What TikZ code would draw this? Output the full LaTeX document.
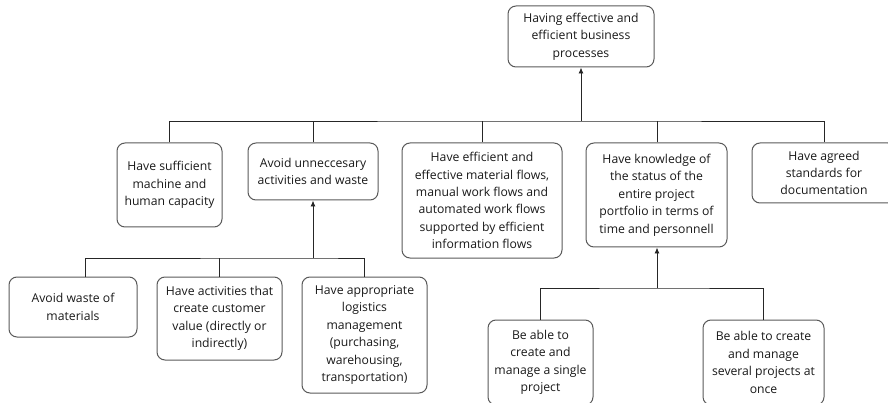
\documentclass[tikz,border=0pt]{standalone}
\usepackage{fontspec}
\setmainfont{Open Sans}
\usetikzlibrary{arrows.meta}
\begin{document}
\begin{tikzpicture}[x=1pt,y=-1pt,
  box/.style={draw=black!65, line width=1pt, rounded corners=8pt, align=center,
    font=\fontsize{12.2}{17.4}\selectfont, inner sep=0pt, text=black!90},
  conn/.style={draw=black!85, line width=0.9pt},
  arr/.style={conn, -{Latex[length=6pt,width=5pt]}}]
\useasboundingbox (0,0) rectangle (888,403);
\clip (0,0) rectangle (888,403);
% top
\node[box, minimum width=146pt, minimum height=61pt] (top) at (581,36.5) {Having effective and\\efficient business\\processes};
% row 2
\node[box, minimum width=105pt, minimum height=84pt] (n1) at (169.5,185) {Have sufficient\\machine and\\human capacity};
\node[box, minimum width=130pt, minimum height=57pt] (n2) at (313,171.5) {Avoid unneccesary\\activities and waste};
\node[box, minimum width=160pt, minimum height=115pt] (n3) at (482,200.5) {Have efficient and\\effective material flows,\\manual work flows and\\automated work flows\\supported by efficient\\information flows};
\node[box, minimum width=141pt, minimum height=104pt] (n4) at (656.5,195) {Have knowledge of\\the status of the\\entire project\\portfolio in terms of\\time and personnell};
\node[box, minimum width=144pt, minimum height=60pt] (n5) at (824,173) {Have agreed\\standards for\\documentation};
% row 3 left
\node[box, minimum width=128pt, minimum height=60pt] (a) at (73,307) {Avoid waste of\\materials};
\node[box, minimum width=125pt, minimum height=83pt] (b) at (219.5,318.5) {Have activities that\\create customer\\value (directly or\\indirectly)};
\node[box, minimum width=125pt, minimum height=116pt] (c) at (364.5,335) {Have appropriate\\logistics\\management\\(purchasing,\\warehousing,\\transportation)};
% row 3 right
\node[box, minimum width=105pt, minimum height=85pt] (d) at (540.5,362.5) {Be able to\\create and\\manage a single\\project};
\node[box, minimum width=121pt, minimum height=85pt] (e) at (763.5,362.5) {Be able to create\\and manage\\several projects at\\once};
% junctions
\coordinate (j1) at (581,121);
\coordinate (j2) at (313,258);
\coordinate (j3) at (657,288);
\coordinate (ka) at (85,277);
% connectors top
\draw[arr] (j1) -- (top);
\draw[conn] (n1.north) |- (j1) -| (n5.north);
\draw[conn] (n2.north) -- (n2.north |- j1);
\draw[conn] (n3.north) -- (n3.north |- j1);
\draw[conn] ([xshift=0.5pt]n4.north) -- ([xshift=0.5pt]n4.north |- j1);
% connectors left group
\draw[arr] (j2) -- (n2);
\draw[conn] (ka) |- (j2) -| (c.north);
\draw[conn] (b.north) -- (b.north |- j2);
% connectors right group
\draw[arr] (j3) -- (n4.south -| j3);
\draw[conn] (d.north) |- (j3) -| (e.north);
\end{tikzpicture}
\end{document}
